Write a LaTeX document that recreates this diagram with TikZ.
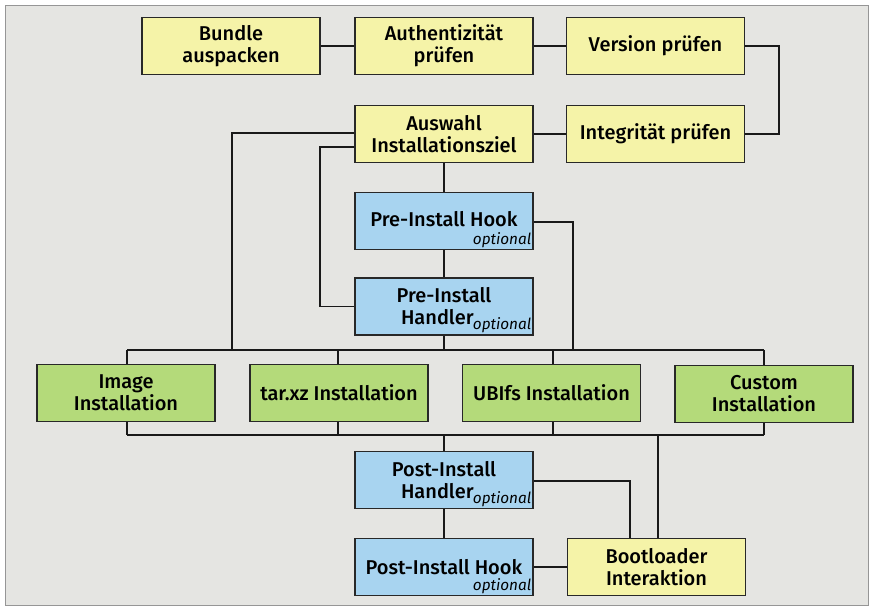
\documentclass[tikz,border=0pt]{standalone}
\usepackage{fontspec}
\setmainfont{Fira Sans}[UprightFont={* Medium},ItalicFont={* Italic}]
\usetikzlibrary{positioning}
\definecolor{bggray}{RGB}{229,229,226}
\definecolor{frame}{RGB}{150,150,150}
\definecolor{stepyellow}{RGB}{245,243,168}
\definecolor{hookblue}{RGB}{168,212,240}
\definecolor{instgreen}{RGB}{180,218,122}
\definecolor{edge}{RGB}{40,40,40}
\begin{document}
\begin{tikzpicture}[x=0.75pt,y=-0.75pt,
  box/.style={draw=edge,line width=0.8pt,minimum width=133.5pt,minimum height=42.75pt,
    inner sep=0pt,align=center,font=\fontsize{15}{16.5}\selectfont},
  yel/.style={box,fill=stepyellow},
  blu/.style={box,fill=hookblue},
  grn/.style={box,fill=instgreen},
  link/.style={draw=black!90,line width=1.4pt},
  opt/.style={anchor=south east,inner sep=1.5pt,font=\fontsize{11.5}{12}\selectfont\itshape}]
\useasboundingbox (0,0) rectangle (872,609);
\fill[white] (0,0) rectangle (872,609);
\filldraw[fill=bggray,draw=frame,line width=0.6pt] (5,5) rectangle (868,605);

% process steps
\node[yel] (bundle) at (231,46) {Bundle\\auspacken};
\node[yel] (auth) at (444,46) {Authentizität\\prüfen};
\node[yel] (version) at (655.5,46) {Version prüfen};
\node[yel] (integ) at (655.5,134) {Integrität prüfen};
\node[yel] (auswahl) at (444,134) {Auswahl\\Installationsziel};

% hooks and handlers
\node[blu] (prehook) at (444,221) {\raisebox{3pt}{Pre-Install Hook}};
\node[opt] at (prehook.south east) {optional};
\node[blu] (prehandler) at (444,306.5) {Pre-Install\\Handler\hspace*{10pt}};
\node[opt] at (prehandler.south east) {optional};

% installation variants
\node[grn] (image) at (126,393) {Image\\Installation};
\node[grn] (tarxz) at (339,393) {tar.xz Installation};
\node[grn] (ubifs) at (551.5,393) {UBIfs Installation};
\node[grn] (custom) at (764,394) {Custom\\Installation};

% post-install
\node[blu] (posthandler) at (444,480) {Post-Install\\Handler\hspace*{10pt}};
\node[opt] at (posthandler.south east) {optional};
\node[blu] (posthook) at (444,567) {Post-Install Hook};
\node[opt] at (posthook.south east) {optional};
\node[yel] (boot) at (656.5,567) {Bootloader\\Interaktion};

% helper points
\coordinate (vr) at (779,46);
\coordinate (busL) at (127,350);
\coordinate (busR) at (764,350);
\coordinate (lowL) at (127,435);
\coordinate (lowR) at (764,435);
\coordinate (selA) at (232,350);
\coordinate (hookR) at (573,350);
\coordinate (selB) at (320,147);
\coordinate (postR) at (630,481);

% top chain
\draw[link] (bundle.east) -- (auth.west);
\draw[link] (auth.east) -- (version.west);
\draw[link] (version.east) -| (vr) |- (integ.east);
\draw[link] (integ.west) -- (auswahl.east);

% from target selection
\draw[link] (auswahl.west |- 0,133) -| (selA);
\draw[link] (auswahl.west |- selB) -- (selB) |- (prehandler.west);
\draw[link] (auswahl.south) -- (prehook.north);
\draw[link] (prehook.south) -- (prehandler.north);
\draw[link] (prehandler.south) -- (prehandler.south |- busL);
\draw[link] (prehook.east |- 0,222) -| (hookR);

% upper and lower bus
\draw[link] (busL) -- (busR);
\draw[link] (lowL) -- (lowR);
\foreach \n/\x in {image/127,tarxz/338,ubifs/553,custom/764}{
  \draw[link] (\x,350) -- (\n.north -| \x,0);
  \draw[link] (\n.south -| \x,0) -- (\x,435);
}

% post-install chain
\draw[link] (444,435) -- (posthandler.north);
\draw[link] (posthandler.south) -- (posthook.north);
\draw[link] (posthandler.east |- postR) -- (postR) -- (boot.north -| postR);
\draw[link] (658,435) -- (boot.north -| 658,0);
\draw[link] (posthook.east) -- (boot.west);
\end{tikzpicture}
\end{document}
